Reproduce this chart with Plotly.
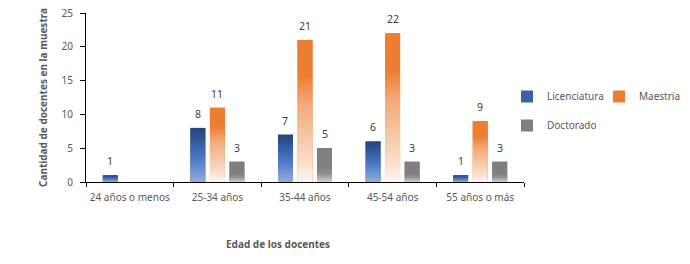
import plotly.graph_objects as go

categories = ["24 años o menos", "25-34 años", "35-44 años", "45-54 años", "55 años o más"]
series_names = ["Licenciatura", "Maestría", "Doctorado"]
licenciatura = [1, 8, 7, 6, 1]
maestria = [None, 11, 21, 22, 9]
doctorado = [None, 3, 5, 3, 3]
y_ticks = [0, 5, 10, 15, 20, 25]

series_values = [licenciatura, maestria, doctorado]
base_colors = ["#3A63A8", "#ED7D31", "#808080"]
gradients = [
    [[0, "#93ADDD"], [0.45, "#4A77C6"], [1, "#24437A"]],
    [[0, "#FDF7F3"], [0.15, "#F9DCC6"], [0.55, "#F2AA78"], [0.75, "#ED7D31"], [1, "#ED7D31"]],
    [[0, "#CFCFCF"], [0.25, "#8E8E8E"], [0.45, "#808080"], [1, "#7F7F7F"]],
]
legend_ids = ["legend", "legend2", "legend"]

SLOT = 0.223
WIDTH = 0.171
FONT = "Noto Sans"
TXT = "#595959"

FIG_W, FIG_H = 690, 264
PLOT_L, PLOT_R, PLOT_T, PLOT_B = 86, 524, 13, 182  # window pixels
L, T = PLOT_L, PLOT_T
R, B = FIG_W - PLOT_R, FIG_H - PLOT_B
PW, PH = PLOT_R - PLOT_L, PLOT_B - PLOT_T


def px_x(p):
    return (p - PLOT_L) / PW


def px_y(p):
    return (PLOT_B - p) / PH


xs = list(range(len(categories)))
fig = go.Figure()

for i, (name, vals) in enumerate(zip(series_names, series_values)):
    off = (i - 1) * SLOT
    fig.add_trace(go.Bar(
        x=xs, y=vals, name=name,
        width=WIDTH, offset=off - WIDTH / 2,
        marker=dict(color=base_colors[i], line=dict(width=0)),
        legend=legend_ids[i],
        legendgroup=name,
        hovertemplate=name + ": %{y}<extra></extra>",
    ))

# gradient fill over every bar, derived from the same data
for i, (name, vals) in enumerate(zip(series_names, series_values)):
    off = (i - 1) * SLOT
    for xi, v in zip(xs, vals):
        if v is None:
            continue
        x0 = xi + off - WIDTH / 2
        x1 = xi + off + WIDTH / 2
        fig.add_trace(go.Scatter(
            x=[x0, x1, x1, x0, x0], y=[0, 0, v, v, 0],
            mode="none", fill="toself",
            fillgradient=dict(type="vertical", colorscale=gradients[i]),
            hoverinfo="skip", showlegend=False,
        ))
        fig.add_annotation(
            x=xi + off, y=v, text=str(v), showarrow=False,
            yanchor="bottom", yshift=5,
            font=dict(family=FONT, size=10.5, color="#404040"),
        )

fig.add_annotation(
    x=px_x(278), y=px_y(244), xref="paper", yref="paper",
    text="<b>Edad de los docentes</b>",
    showarrow=False, yanchor="middle", xanchor="center",
    font=dict(family=FONT, size=10, color=TXT),
)

fig.update_layout(
    width=FIG_W, height=FIG_H,
    margin=dict(l=L, r=R, t=T, b=B, autoexpand=False),
    paper_bgcolor="white", plot_bgcolor="white",
    barmode="overlay",
    font=dict(family=FONT, size=10, color=TXT),
    xaxis=dict(
        range=[-0.5, 4.5], tickmode="array", tickvals=xs, ticktext=categories,
        ticks="", showgrid=False, zeroline=False,
        showline=True, linecolor="black", linewidth=1,
        tickfont=dict(family=FONT, size=10, color=TXT),
        minor=dict(tickmode="array", tickvals=[x - 0.5 for x in xs] + [4.5],
                   ticks="outside", ticklen=4, tickcolor="black", tickwidth=1, showgrid=False),
        ticklabelstandoff=6, ticklabeloverflow="allow",
        fixedrange=True,
    ),
    yaxis=dict(
        range=[0, 25], tickmode="array", tickvals=y_ticks,
        ticks="outside", ticklen=5, tickcolor="black", tickwidth=1,
        showgrid=False, zeroline=False,
        showline=True, linecolor="black", linewidth=1,
        tickfont=dict(family=FONT, size=10, color=TXT),
        ticklabelstandoff=5, ticklabeloverflow="allow",
        title=dict(text="<b>Cantidad de docentes en la muestra</b>",
                   font=dict(family=FONT, size=10, color=TXT), standoff=12),
        fixedrange=True,
    ),
    legend=dict(
        orientation="v", x=px_x(507), xanchor="left",
        y=px_y(82), yanchor="top",
        font=dict(family=FONT, size=10, color=TXT),
        tracegroupgap=10, bgcolor="rgba(0,0,0,0)", borderwidth=0,
    ),
    legend2=dict(
        orientation="v", x=px_x(599), xanchor="left",
        y=px_y(82), yanchor="top",
        font=dict(family=FONT, size=10, color=TXT),
        bgcolor="rgba(0,0,0,0)", borderwidth=0,
    ),
    showlegend=True,
)

# remove the browser's default 8px body margin so the figure fills the window
fig.write_html(
    "out.html",
    config={"displayModeBar": False},
    post_script="document.body.style.margin='0';",
)
